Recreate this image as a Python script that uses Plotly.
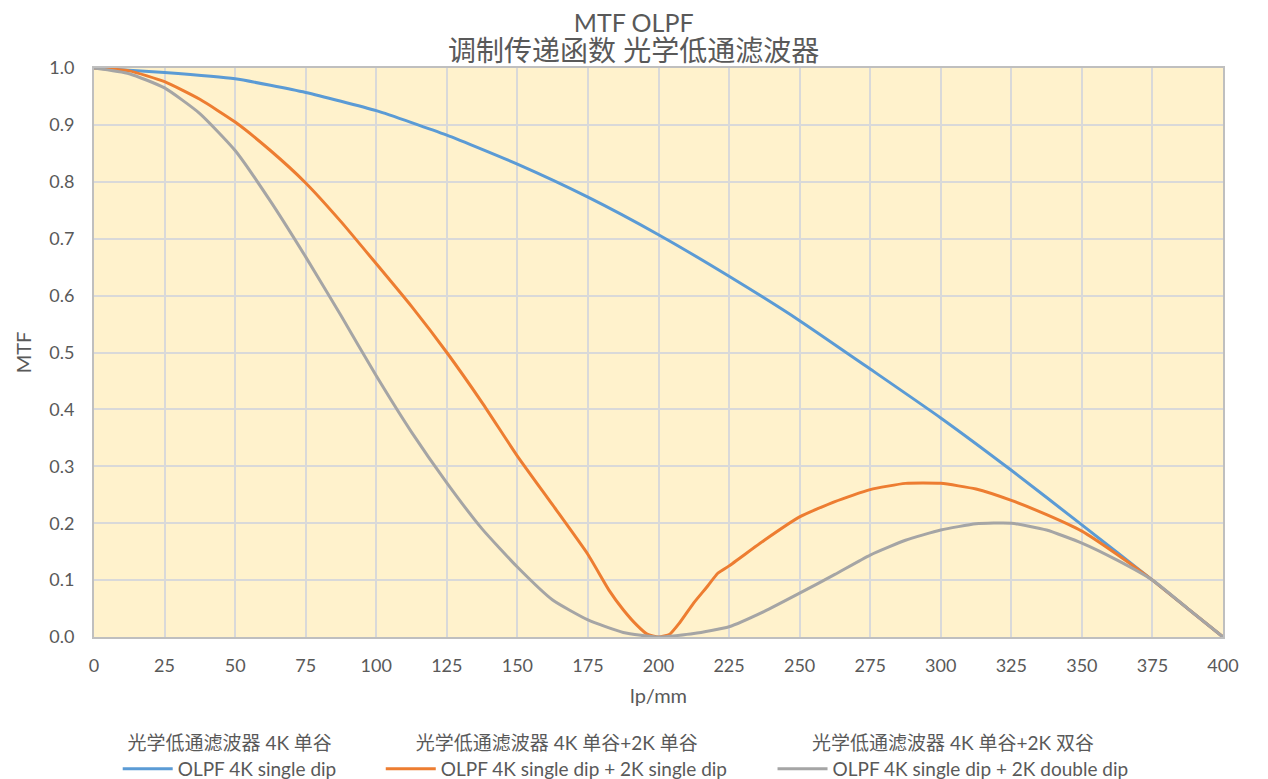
import plotly.graph_objects as go

# lp/mm sample positions and MTF values
freq_4k = [0, 25, 50, 75, 100, 125, 150, 175, 200, 225, 250, 275, 300, 325, 350, 375, 400]
mtf_4k = [1.0, 0.992, 0.981, 0.957, 0.925, 0.882, 0.831, 0.773, 0.707, 0.634, 0.556, 0.471,
          0.385, 0.293, 0.197, 0.1, 0.0]

freq_2k_single = [0, 12.5, 25, 37.5, 50, 62.5, 75, 87.5, 100, 112.5, 125, 137.5, 150, 162.5,
                  175, 182.5, 187.5, 192.5, 196, 200, 204, 207.5, 212.5, 217.5, 221, 225,
                  237.5, 250, 262.5, 275, 287.5, 300, 312.5, 325, 337.5, 350, 362.5, 375,
                  387.5, 400]
mtf_2k_single = [1.0, 0.995, 0.976, 0.945, 0.905, 0.855, 0.798, 0.73, 0.656, 0.581, 0.5,
                 0.412, 0.318, 0.232, 0.145, 0.082, 0.048, 0.02, 0.005, 0.0, 0.005, 0.025,
                 0.06, 0.09, 0.112, 0.125, 0.17, 0.211, 0.238, 0.259, 0.27, 0.27, 0.26,
                 0.24, 0.215, 0.186, 0.145, 0.1, 0.05, 0.0]

freq_2k_double = [0, 12.5, 25, 37.5, 50, 62.5, 75, 87.5, 100, 112.5, 125, 137.5, 150, 162.5,
                  175, 187.5, 200, 212.5, 225, 237.5, 250, 262.5, 275, 287.5, 300, 312.5,
                  325, 337.5, 350, 362.5, 375, 387.5, 400]
mtf_2k_double = [1.0, 0.99, 0.965, 0.92, 0.855, 0.766, 0.668, 0.565, 0.459, 0.36, 0.271,
                 0.19, 0.123, 0.065, 0.03, 0.008, 0.0, 0.006, 0.018, 0.045, 0.077, 0.11,
                 0.144, 0.17, 0.188, 0.199, 0.2, 0.188, 0.165, 0.135, 0.1, 0.05, 0.0]

names_en = ['OLPF 4K single dip', 'OLPF 4K single dip + 2K single dip',
            'OLPF 4K single dip + 2K double dip']
names_cn = ['光学低通滤波器 4K 单谷', '光学低通滤波器 4K 单谷+2K 单谷',
            '光学低通滤波器 4K 单谷+2K 双谷']
colors = ['#5B9BD5', '#ED7D31', '#A5A5A5']

FONT = 'Lato, "Noto Sans CJK SC", sans-serif'
TXT = '#595959'

fig = go.Figure()
series = [(freq_4k, mtf_4k), (freq_2k_single, mtf_2k_single), (freq_2k_double, mtf_2k_double)]
legends = ['legend', 'legend2', 'legend3']
for i, (xs, ys) in enumerate(series):
    fig.add_trace(go.Scatter(
        x=xs, y=ys, mode='lines', name=names_en[i],
        line=dict(color=colors[i], width=3, shape='spline', smoothing=0.5),
        legend=legends[i]
    ))

# one legend per series so the chinese caption can sit centred on top
leg_x = [0.021, 0.254, 0.601]
leg_common = dict(orientation='h', yanchor='top', xanchor='left', y=-0.155,
                  bgcolor='rgba(0,0,0,0)', font=dict(family=FONT, size=19, color=TXT),
                  tracegroupgap=0, itemwidth=50)
layout_legends = {}
for i, key in enumerate(legends):
    layout_legends[key] = dict(
        leg_common, x=leg_x[i],
        title=dict(text=names_cn[i], side='top center',
                   font=dict(family=FONT, size=19, color=TXT))
    )

title_text = ('<span style="font-size:25px">MTF OLPF</span><br>'
              '<span style="font-size:28px">调制传递函数 光学低通滤波器</span>')

# page body adds ~8px around the figure, so the figure is a bit smaller than the window
fig.update_layout(
    width=1260, height=771,
    margin=dict(l=86, r=45, t=60, b=142, autoexpand=False),
    paper_bgcolor='white',
    plot_bgcolor='#FFF2CC',
    showlegend=True,
    font=dict(family=FONT, color=TXT),
    title=dict(text=title_text, xref='paper', x=0.478, xanchor='center',
               yref='container', y=0.969, yanchor='top',
               font=dict(family=FONT, size=22, color=TXT)),
    **layout_legends
)

fig.update_xaxes(
    range=[0, 400], dtick=25, tick0=0,
    showgrid=True, gridcolor='#D9D9D9', gridwidth=1.5,
    showline=True, linecolor='#BFBFBF', linewidth=2, mirror=True,
    zeroline=False, ticks='', ticklabelstandoff=11,
    tickfont=dict(family=FONT, size=18, color=TXT),
    title=dict(text='lp/mm', standoff=14, font=dict(family=FONT, size=20, color=TXT))
)
fig.update_yaxes(
    range=[0, 1], dtick=0.1, tick0=0, tickformat='.1f',
    showgrid=True, gridcolor='#D9D9D9', gridwidth=1.5,
    showline=True, linecolor='#BFBFBF', linewidth=2, mirror=True,
    zeroline=False, ticks='', ticklabelstandoff=14,
    tickfont=dict(family=FONT, size=18, color=TXT),
    title=dict(text='MTF', standoff=12, font=dict(family=FONT, size=20, color=TXT))
)

fig.write_html("out.html")
